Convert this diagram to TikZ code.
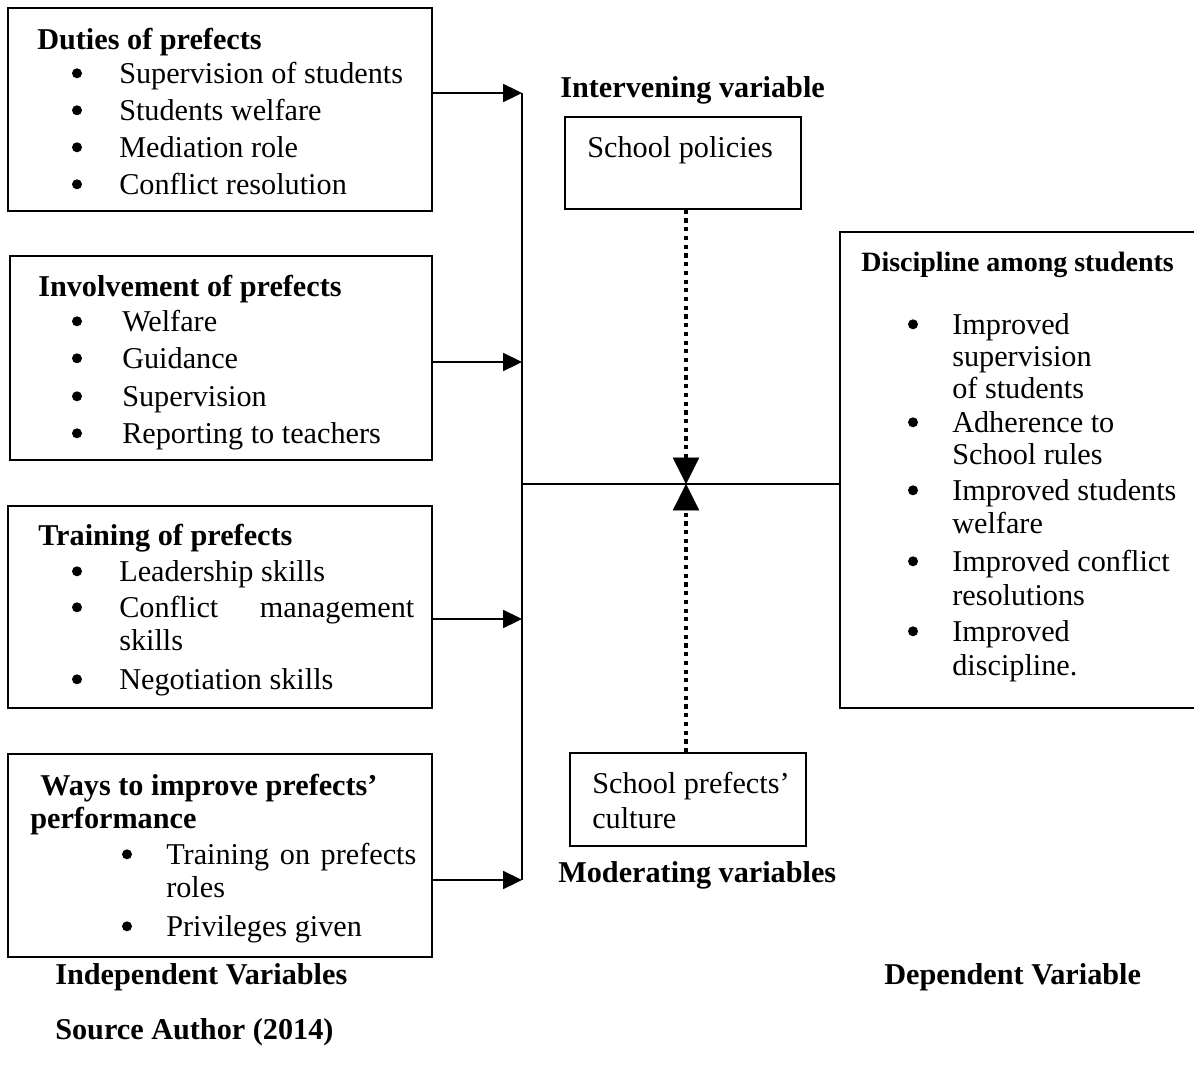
\documentclass[tikz,border=0pt]{standalone}
\usepackage{fontspec}
\setmainfont{Liberation Serif}
\usetikzlibrary{arrows.meta,fit,positioning}

\newcommand{\bodyfont}{\fontsize{21.5pt}{26pt}\selectfont}
\newcommand{\smallhead}{\fontsize{19.9pt}{24pt}\selectfont\bfseries}

\begin{document}
\begin{tikzpicture}[x=0.025cm, y=-0.025cm,
        box/.style={draw, line width=1.1pt, inner sep=0pt},
        txt/.style={anchor=west, inner sep=0pt, font=\bodyfont, text height=18pt, text depth=4pt},
        hd/.style={txt, font=\bodyfont\bfseries},
        dot/.style={circle, fill, inner sep=0pt, minimum size=0.25cm, yshift=0.5pt},
        arr/.style={line width=1.1pt, -{Triangle[length=0.47cm, width=0.45cm]}},
        bus/.style={line width=1.1pt},
        dots/.style={line width=2.8pt, dash pattern=on 3pt off 3.2pt, -{Triangle[length=0.66cm, width=0.66cm, line width=0.1pt]}},
    ]
        \useasboundingbox (0,0) rectangle (1194,1069);

        % Independent variables
        \node[box, fit={(8,8) (432,211)}] (duties) {};
        \node[hd] (dutiest) at (37,40) {Duties of prefects};
        \foreach \t/\y [count=\i] in {Supervision of students/74, Students welfare/111, Mediation role/148, Conflict resolution/185}{
            \node[dot] (dutyb\i) at (77,\y) {};
            \node[txt] (duty\i) at (119,\y) {\t};
        }

        \node[box, fit={(10,256) (432,460)}] (involve) {};
        \node[hd] (involvet) at (38,287) {Involvement of prefects};
        \foreach \t/\y [count=\i] in {Welfare/322, Guidance/359, Supervision/397, Reporting to teachers/434}{
            \node[dot] (invb\i) at (77,\y) {};
            \node[txt] (inv\i) at (122,\y) {\t};
        }

        \node[box, fit={(8,506) (432,708)}] (training) {};
        \node[hd] (trainingt) at (38,536) {Training of prefects};
        \node[dot] (trb1) at (77,572) {};
        \node[txt] (tr1) at (119,572) {Leadership skills};
        \node[dot] (trb2) at (77,608) {};
        \node[txt] (tr2) at (119,608) {\makebox[7.375cm][s]{Conflict management}};
        \node[txt] (tr2b) at (119,641) {skills};
        \node[dot] (trb3) at (77,680) {};
        \node[txt] (tr3) at (119,680) {Negotiation skills};

        \node[box, fit={(8,754) (432,957)}] (ways) {};
        \node[hd] (wayst) at (40,786) {Ways to improve prefects’};
        \node[hd] (wayst2) at (30,819) {performance};
        \node[dot] (wyb1) at (127,855) {};
        \node[txt] (wy1) at (166,855) {\makebox[6.25cm][s]{Training on prefects}};
        \node[txt] (wy1b) at (166,888) {roles};
        \node[dot] (wyb2) at (127,927) {};
        \node[txt] (wy2) at (166,927) {Privileges given};

        % Collecting line
        \coordinate (j1) at (522,93);
        \coordinate (j2) at (522,362);
        \coordinate (j3) at (522,619);
        \coordinate (j4) at (522,880);
        \coordinate (jm) at (522,484);
        \coordinate (hub) at (686,484);
        \draw[arr] (duties.east |- j1) -- (j1);
        \draw[arr] (involve.east |- j2) -- (j2);
        \draw[arr] (training.east |- j3) -- (j3);
        \draw[arr] (ways.east |- j4) -- (j4);
        \draw[bus] (j1) -- (j4);

        % Intervening and moderating variables
        \node[hd] (intlab) at (560,88) {Intervening variable};
        \node[box, fit={(565,117) (801,209)}] (policy) {};
        \node[txt] (policyt) at (587,148) {School policies};
        \node[box, fit={(570,753) (806,846)}] (culture) {};
        \node[txt] (culturet) at (592,784) {School prefects’};
        \node[txt] (culturet2) at (592,819) {culture};
        \node[hd] (modlab) at (558,873) {Moderating variables};

        % Dependent variable
        \node[box, fit={(840,232) (1198,708)}] (disc) {};
        \node[txt, font=\smallhead] (disct) at (861,262) {Discipline among students};
        \foreach \y in {325, 423, 491, 562, 632}{
            \node[dot] (db\y) at (913,\y) {};
        }
        \foreach \t/\y [count=\i] in {Improved/325, supervision/357, of students/389, Adherence to/423, School rules/455, Improved students/491, welfare/524, Improved conflict/562, resolutions/596, Improved/632, discipline./666}{
            \node[txt] (dl\i) at (952,\y) {\t};
        }

        \draw[bus] (jm) -- (disc.west |- jm);
        \draw[dots] (hub |- policy.south) -- (hub);
        \draw[dots] (hub |- culture.north) -- (hub);

        % Captions
        \node[hd] (indlab) at (55,975) {Independent Variables};
        \node[hd] (deplab) at (884,975) {Dependent Variable};
        \node[hd] (source) at (55,1030) {Source Author (2014)};
    \end{tikzpicture}
\end{document}
